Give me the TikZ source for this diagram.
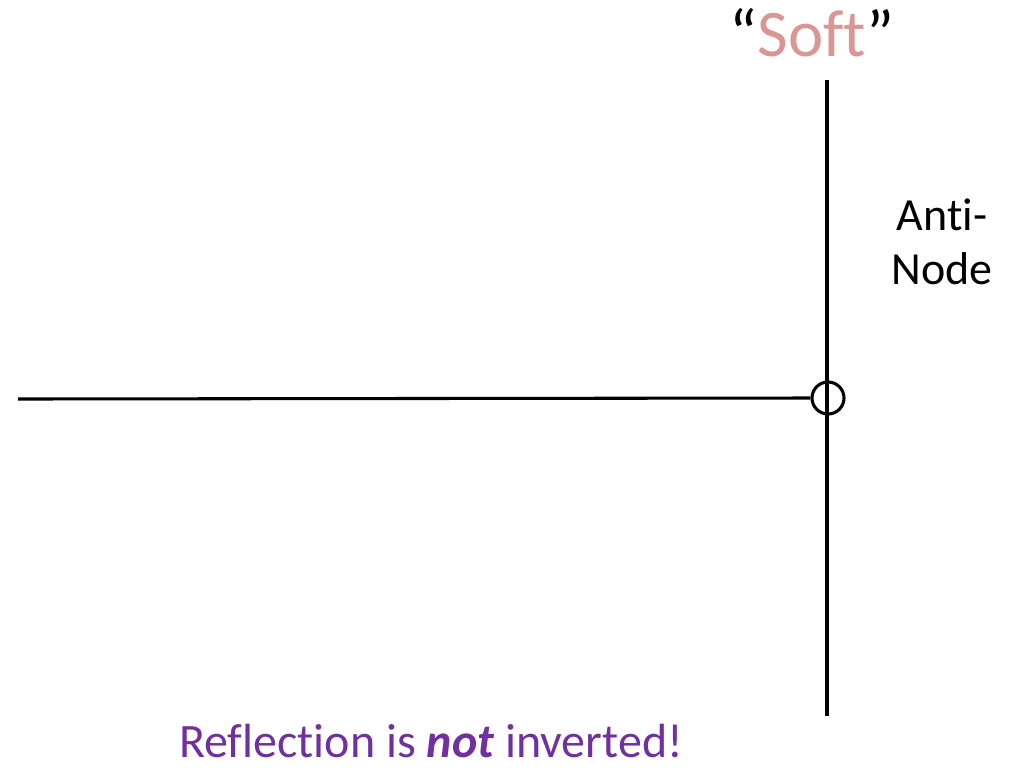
\documentclass[tikz,border=0pt]{standalone}
\usepackage{fontspec}
\setmainfont{Carlito}[Ligatures={NoCommon}]
\definecolor{softpink}{RGB}{217,150,148}
\definecolor{notepurple}{RGB}{112,48,160}
\tikzset{
  wire/.style={line width=2.3pt, draw=black},
  lbl/.style={inner sep=0pt, anchor=base},
}
\begin{document}
\begin{tikzpicture}[x=0.75pt,y=-0.75pt]
\useasboundingbox (0,0) rectangle (1025,769);
\coordinate (top) at (827,80);
\coordinate (bot) at (827,716);
\coordinate (left) at (18,399);
\node[circle, draw=black, line width=2.3pt, minimum size=24pt, inner sep=0pt] (ring) at (828,398) {};
\draw[wire] (top) -- (bot);
\draw[wire] (left) -- (ring.west);
\node[lbl, font=\fontsize{50}{60}\selectfont] (soft) at (812,56) {“\textcolor{softpink}{Soft}”};
\node[lbl, font=\fontsize{34.5}{41}\selectfont, align=center] (anti) at (942,284) {Anti-\\[-1pt]Node};
\node[lbl, font=\fontsize{36}{43}\selectfont, text=notepurple] (note) at (431,757) {Reflection is \textbf{\textit{not}} inverted!};
\end{tikzpicture}
\end{document}
